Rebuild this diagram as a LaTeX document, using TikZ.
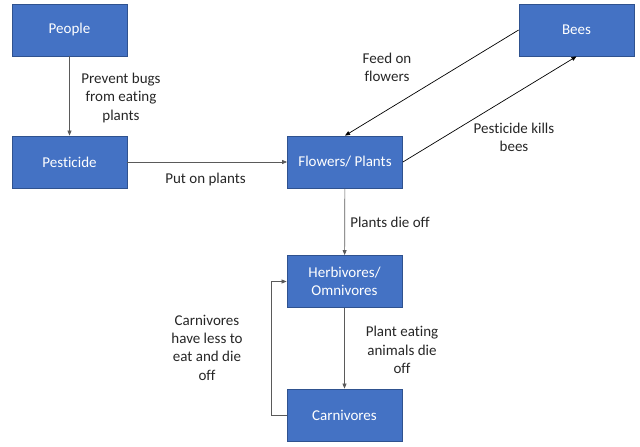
\documentclass[tikz,border=0pt]{standalone}
\usepackage{fontspec}
\setmainfont{Carlito}[Ligatures={NoCommon}]
\usepackage{tikz}
\usetikzlibrary{arrows.meta, positioning, calc}
\definecolor{boxblue}{RGB}{68, 114, 196}
\definecolor{boxedge}{RGB}{47, 82, 143}
\definecolor{linegray}{RGB}{90, 90, 90}

\begin{document}
\begin{tikzpicture}[
    x=1pt, y=-1pt,
    entity/.style={draw=boxedge, line width=0.8pt, fill=boxblue, minimum width=115pt, minimum height=52pt, align=center, text=white, font=\fontsize{15}{18.3}\selectfont, inner sep=2pt},
    note/.style={align=center, font=\fontsize{15}{18.3}\selectfont, text=black!85},
    arrow/.style={-{Triangle[length=5pt, width=4pt]}, line width=0.7pt, draw=linegray}
]
\useasboundingbox (0,0) rectangle (640,447);

% Boxes
\node[entity] (people) at (69.5,30) {People};
\node[entity] (pesticide) at (69.5,162) {Pesticide};
\node[entity] (plants) at (345,162) {Flowers/ Plants};
\node[entity] (bees) at (576.5,30) {Bees};
\node[entity] (herbivores) at (344.5,281.5) {Herbivores/\\Omnivores};
\node[entity] (carnivores) at (344.5,415) {Carnivores};

% Arrows
\draw[arrow] (people) -- (pesticide);
\draw[arrow] (pesticide) -- (plants);
\draw[arrow, draw=black] (bees.west) -- (plants.north);
\draw[arrow, draw=black] (plants.east) -- (bees.south);
\draw[arrow] (plants) -- (herbivores);
\draw[arrow] (herbivores) -- (carnivores);
\draw[arrow] (carnivores.west) -- ++(-15,0) |- (herbivores.west);

% Labels
\node[note] (preventlbl) at (121,98) {Prevent bugs\\from eating\\plants};
\node[note] (putlbl) at (205.5,179) {Put on plants};
\node[note] (feedlbl) at (387,67.5) {Feed on\\flowers};
\node[note] (killlbl) at (514,137) {Pesticide kills\\bees};
\node[note] (dielbl) at (390,222) {Plants die off};
\node[note] (eatlbl) at (402,350) {Plant eating\\animals die\\off};
\node[note] (lesslbl) at (207,347.5) {Carnivores\\have less to\\eat and die\\off};

\end{tikzpicture}
\end{document}
